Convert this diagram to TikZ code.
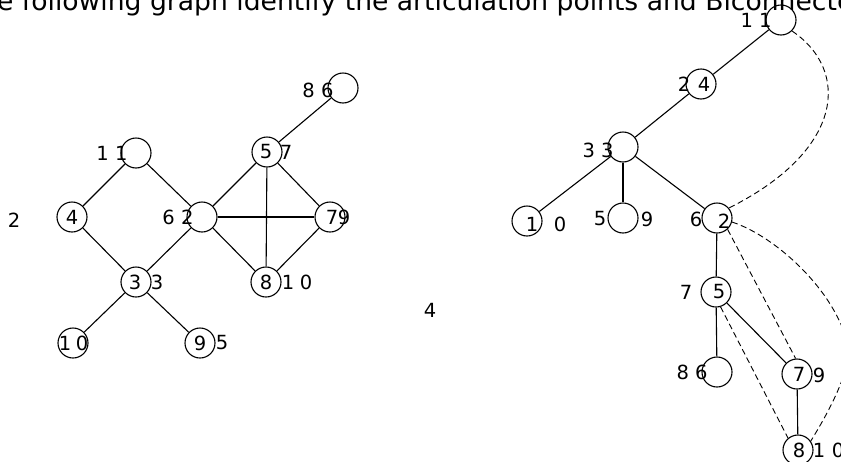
\documentclass[tikz,border=0pt]{standalone}
\usepackage{fontspec}
\setmainfont{DejaVu Sans}
\begin{document}
\begin{tikzpicture}[x=1pt,y=-1pt,
  vtx/.style={circle,draw,line width=1.1pt,minimum size=30pt,inner sep=0pt},
  lbl/.style={inner sep=0pt,font=\fontsize{19.5}{19.5}\selectfont},
  edge/.style={line width=1.1pt},
  back/.style={line width=0.9pt,dashed,dash pattern=on 6pt off 3.5pt}]
\clip (0,0) rectangle (841,461);
\fill[white] (0,0) rectangle (841,461);
% header
\node[anchor=base west,inner sep=0pt,font=\fontsize{26.6}{26.6}\selectfont] (hdr) at (-3,10) {e following graph identify the articulation points and Biconnected components};
% ---------- left graph ----------
\node[vtx] (a11) at (136,153) {};
\node[vtx] (a4) at (72,217) {};
\node[vtx] (a62) at (202,217) {};
\node[vtx] (a33) at (136,282) {};
\node[vtx] (a10) at (73,343) {};
\node[vtx] (a95) at (200,343) {};
\node[vtx] (a57) at (267,152) {};
\node[vtx] (a86) at (343,88) {};
\node[vtx] (a79) at (330,217) {};
\node[vtx] (a810) at (266,282) {};
\node[lbl] (l11) at (112,153) {1 1};
\node[lbl] (l4) at (72,217) {4};
\node[lbl] (t2) at (14,220) {2};
\node[lbl] (l62) at (178,217) {6 2};
\node[lbl] (l33a) at (135,282) {3};
\node[lbl] (l33b) at (157,282) {3};
\node[lbl] (l10a) at (65,343) {1};
\node[lbl] (l10b) at (82,343) {0};
\node[lbl] (l95a) at (200,343) {9};
\node[lbl] (l95b) at (222,343) {5};
\node[lbl] (l57a) at (266,152) {5};
\node[lbl] (l57b) at (286,152) {7};
\node[lbl] (l86) at (318,90) {8 6};
\node[lbl] (l79a) at (332,217) {7};
\node[lbl] (l79b) at (344,217) {9};
\node[lbl] (l810a) at (266,282) {8};
\node[lbl] (l810b) at (288,282) {1};
\node[lbl] (l810c) at (306,282) {0};
\draw[edge] (a11) -- (a4);
\draw[edge] (a11) -- (a62);
\draw[edge] (a4) -- (a33);
\draw[edge] (a62) -- (a33);
\draw[edge] (a33) -- (a10);
\draw[edge] (a33) -- (a95);
\draw[edge] (a62) -- (a57);
\draw[edge] (a62) -- (a79);
\draw[edge] (a62) -- (a810);
\draw[edge] (a57) -- (a86);
\draw[edge] (a57) -- (a79);
\draw[edge] (a57) -- (a810);
\draw[edge] (a79) -- (a810);
% middle label
\node[lbl] (t4) at (430,310) {4};
% ---------- right graph (DFS tree) ----------
\node[vtx] (b11) at (781,20) {};
\node[vtx] (b24) at (701,84) {};
\node[vtx] (b33) at (623,147) {};
\node[vtx] (b10) at (527,221) {};
\node[vtx] (b59) at (623,218) {};
\node[vtx] (b62) at (717,218) {};
\node[vtx] (b75) at (716,292) {};
\node[vtx] (b86) at (717,372) {};
\node[vtx] (b79) at (797,374) {};
\node[vtx] (b810) at (798,450) {};
\node[lbl] (m11) at (756,20) {1 1};
\node[lbl] (m24a) at (684,84) {2};
\node[lbl] (m24b) at (704,84) {4};
\node[lbl] (m33) at (598,150) {3 3};
\node[lbl] (m10a) at (532,224) {1};
\node[lbl] (m10b) at (560,224) {0};
\node[lbl] (m59a) at (600,219) {5};
\node[lbl] (m59b) at (647,219) {9};
\node[lbl] (m62a) at (696,219) {6};
\node[lbl] (m62b) at (724,221) {2};
\node[lbl] (m75a) at (686,292) {7};
\node[lbl] (m75b) at (719,292) {5};
\node[lbl] (m86) at (692,372) {8 6};
\node[lbl] (m79a) at (799,374) {7};
\node[lbl] (m79b) at (819,375) {9};
\node[lbl] (m810a) at (799,450) {8};
\node[lbl] (m810b) at (819,450) {1};
\node[lbl] (m810c) at (838,450) {0};
\draw[edge] (b11) -- (b24);
\draw[edge] (b24) -- (b33);
\draw[edge] (b33) -- (b10);
\draw[edge] (b33) -- (b59);
\draw[edge] (b33) -- (b62);
\draw[edge] (b62) -- (b75);
\draw[edge] (b75) -- (b86);
\draw[edge] (b75) -- (b79);
\draw[edge] (b79) -- (b810);
% back edges
\draw[back] (b11.-45) .. controls (850,70) and (845,150) .. (b62.40);
\draw[back] (b62.-47) -- (b79.95);
\draw[back] (b62.-15) .. controls (775,236) and (835,290) .. (848,345)
  .. controls (852,368) and (830,410) .. (b810.35);
\draw[back] (b75.-73) -- (b810.130);
\end{tikzpicture}
\end{document}
